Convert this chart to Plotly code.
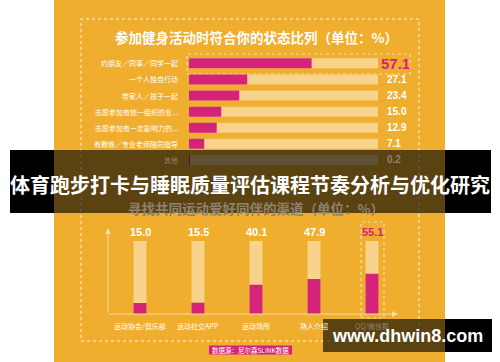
import plotly.graph_objects as go

# ---------------- data ----------------
state_labels = ["约朋友／同事／同学一起", "一个人独自行动", "带家人／孩子一起",
                "志愿参加有统一组织的业...", "志愿参加有一定影响力的...",
                "有教练／专业老师陪同指导", "其他"]
state_values = [57.1, 27.1, 23.4, 15.0, 12.9, 7.1, 0.2]
state_value_text = ["57.1", "27.1", "23.4", "15.0", "12.9", "7.1", "0.2"]

channel_labels = ["运动协会/俱乐部", "运动社交APP", "运动场所", "熟人介绍", "QQ/微信群"]
channel_values = [15.0, 15.5, 40.1, 47.9, 55.1]
channel_value_text = ["15.0", "15.5", "40.1", "47.9", "55.1"]

main_title = "体育跑步打卡与睡眠质量评估课程节奏分析与优化研究"
top_title = "参加健身活动时符合你的状态比列（单位：%）"
bottom_title = "寻找共同运动爱好同伴的渠道（单位：%）"
source_text = "数据源：尼尔森SLINK数据"
watermark = "www.dhwin8.com"

H_MAX = 88      # scale max of horizontal tracks
V_MAX = 100     # scale max of vertical tracks

# ---------------- style ----------------
W, H = 500, 362
def px(x): return x / W
def py(y): return 1 - y / H

ORANGE = "#EFAE2D"
MAGENTA = "#D5237A"
PEACH = "#F8D38C"
LINE = "#F7DCA6"
DIM = "#8F836E"
CJK = "Noto Sans CJK SC"
NUM = "Liberation Sans Narrow, Liberation Sans, Arial, sans-serif"

fig = go.Figure()

# horizontal bars
fig.add_bar(y=state_labels, x=[H_MAX] * len(state_labels), orientation="h",
            marker=dict(color=PEACH, line=dict(width=0)), width=0.62,
            xaxis="x", yaxis="y", hoverinfo="skip")
fig.add_bar(y=state_labels, x=state_values, orientation="h",
            marker=dict(color=MAGENTA, line=dict(width=0)), width=0.62,
            xaxis="x", yaxis="y", hoverinfo="skip")

# vertical bars
fig.add_bar(x=channel_labels, y=[V_MAX] * len(channel_labels),
            marker=dict(color=PEACH, line=dict(width=0)), width=0.224,
            xaxis="x2", yaxis="y2", hoverinfo="skip")
fig.add_bar(x=channel_labels, y=channel_values,
            marker=dict(color=MAGENTA, line=dict(width=0)), width=0.224,
            xaxis="x2", yaxis="y2", hoverinfo="skip")

ann = []
def txt_ann(text, x, y, xref="paper", yref="paper", xanchor="center", size=10,
            color="white", family=CJK):
    ann.append(dict(text=text, x=x, y=y, xref=xref, yref=yref, xanchor=xanchor,
                    yanchor="middle", showarrow=False,
                    font=dict(family=family, size=size, color=color)))

# titles
txt_ann(f"<b>{main_title}</b>", 0.5, py(184), size=20)
txt_ann(f"<b>{top_title}</b>", px(256), py(37), size=13.5)
txt_ann(f"<b>{bottom_title}</b>", px(256), py(208), size=13.5, color=DIM)

# row labels + values
for i, (lab, t) in enumerate(zip(state_labels, state_value_text)):
    dim = lab == "其他"
    txt_ann(lab, px(180), lab, yref="y", xanchor="right", size=7,
            color=DIM if dim else "white")
    if i == 0:
        txt_ann(f"<b>{t}</b>", px(379), lab, yref="y", xanchor="left", size=15,
                color=MAGENTA, family=NUM)
    else:
        txt_ann(f"<b>{t}</b>", px(385), lab, yref="y", xanchor="left", size=10,
                color=DIM if dim else "white", family=NUM)

# column labels + values
for i, (lab, t) in enumerate(zip(channel_labels, channel_value_text)):
    last = i == len(channel_labels) - 1
    txt_ann(f"<b>{t}</b>", lab, py(232), xref="x2", size=11,
            color=MAGENTA if last else "white", family=NUM)
    txt_ann(lab, lab, py(326), xref="x2", size=7, color=DIM if last else "white")

# axis arrows
ann.append(dict(text="", x=px(108), y=py(228), xref="paper", yref="paper",
                ax=0, ay=86, showarrow=True, arrowhead=2, arrowsize=1.2,
                arrowwidth=1, arrowcolor=LINE))
ann.append(dict(text="", x=px(398), y=py(314), xref="paper", yref="paper",
                ax=-290, ay=0, showarrow=True, arrowhead=2, arrowsize=1.2,
                arrowwidth=1, arrowcolor=LINE))

# source + watermark
txt_ann(source_text, px(250.5), py(350), size=6.5)
txt_ann(f"<b>{watermark}</b>", px(407), py(336), size=18,
        family="Liberation Sans, Arial, sans-serif")

def rect(x0, y0, x1, y1, **kw):
    d = dict(type="rect", xref="paper", yref="paper",
             x0=px(x0), x1=px(x1), y0=py(y1), y1=py(y0))
    d.update(kw)
    return d

shapes = [
    rect(54, 0, 445, 362, fillcolor=ORANGE, line=dict(width=0), layer="below"),
    rect(81, 19, 419, 341, line=dict(color=LINE, width=1.5, dash="dot"), layer="below"),
    rect(187, 54, 410, 74, line=dict(color=LINE, width=1.2, dash="dot"), layer="below"),
    rect(361, 222, 384, 318, line=dict(color=LINE, width=1.2, dash="dot"), layer="below"),
    rect(209, 345.5, 292, 354.5, fillcolor=MAGENTA, line=dict(width=0), layer="below"),
    # banner
    rect(10, 150, 54, 213, fillcolor="black", line=dict(width=0), layer="above"),
    rect(54, 150, 445, 213, fillcolor="rgba(0,0,0,0.62)", line=dict(width=0), layer="above"),
    rect(445, 150, 491, 213, fillcolor="black", line=dict(width=0), layer="above"),
    # watermark box
    rect(323, 319, 445, 352, fillcolor="rgba(0,0,0,0.62)", line=dict(width=0), layer="above"),
    rect(445, 319, 492, 352, fillcolor="black", line=dict(width=0), layer="above"),
]

fig.update_layout(
    width=W, height=H, autosize=False,
    margin=dict(l=0, r=0, t=0, b=0),
    paper_bgcolor="white", plot_bgcolor="rgba(0,0,0,0)",
    showlegend=False, barmode="overlay",
    xaxis=dict(domain=[px(189), px(378)], range=[0, H_MAX], visible=False, fixedrange=True,
               anchor="y"),
    yaxis=dict(domain=[py(168), py(55.3)], type="category", categoryarray=state_labels,
               categoryorder="array", range=[len(state_labels) - 0.5, -0.5],
               visible=False, fixedrange=True, anchor="x"),
    xaxis2=dict(domain=[px(111), px(401)], type="category", categoryarray=channel_labels,
                categoryorder="array", range=[-0.5, len(channel_labels) - 0.5],
                visible=False, fixedrange=True, anchor="y2"),
    yaxis2=dict(domain=[py(314), py(241)], range=[0, V_MAX], visible=False,
                fixedrange=True, anchor="x2"),
    annotations=ann, shapes=shapes,
)

fig.write_html("out.html", config={"displayModeBar": False},
               post_script="document.body.style.margin='0';document.body.style.overflow='hidden';")
